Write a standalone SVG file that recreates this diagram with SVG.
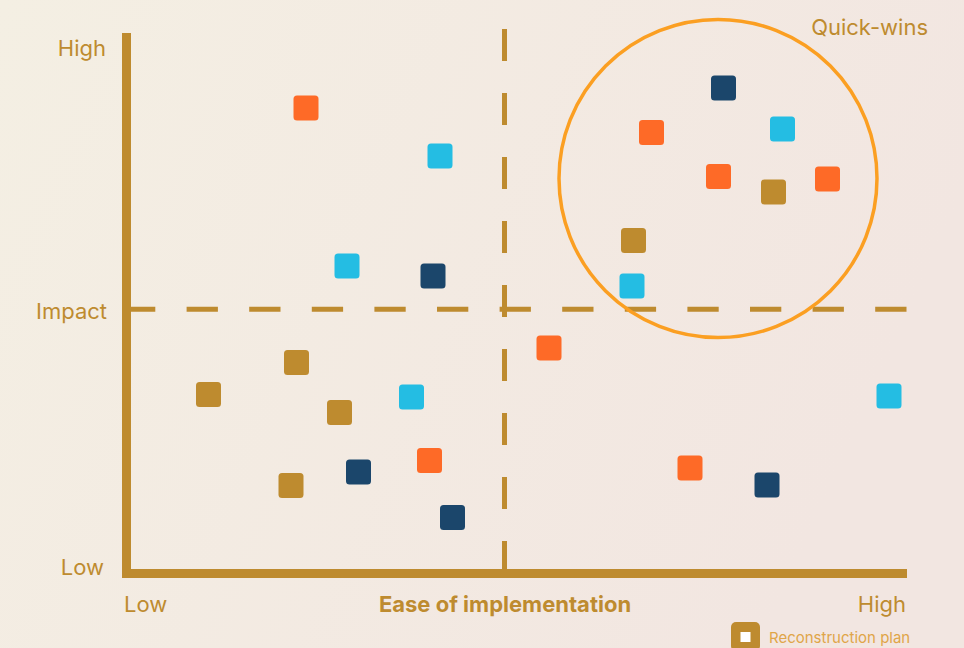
<svg xmlns="http://www.w3.org/2000/svg" width="964" height="648" viewBox="0 0 964 648">
  <defs>
    <linearGradient id="bg" x1="0" y1="0" x2="1" y2="0.3">
      <stop offset="0" stop-color="#F4EFE3"/>
      <stop offset="1" stop-color="#F2E6E1"/>
    </linearGradient>
  </defs>
  <style>
    .lbl { font-family: Inter, "Open Sans", "Liberation Sans", sans-serif; font-size: 22px; fill: #BE8B2F; }
    .bold { font-weight: 700; font-size: 22px; }
    .leg { font-family: Inter, "Open Sans", "Liberation Sans", sans-serif; font-size: 15px; fill: #E0A548; }
    .axis { fill: #BE8B2F; }
    .dash { stroke: #BE8B2F; stroke-width: 5; fill: none; }
    .o { fill: #FE6A27; }
    .c { fill: #24BDE3; }
    .n { fill: #1B466B; }
    .g { fill: #BE8B2F; }
  </style>
  <rect width="964" height="648" fill="url(#bg)"/>

  <g id="connectors">
    <line class="dash" x1="124" y1="309.3" x2="907.3" y2="309.3" stroke-dasharray="31.3 31.3"/>
    <line class="dash" x1="504.5" y1="29" x2="504.5" y2="573" stroke-dasharray="32 32"/>
    <rect class="axis" x="122" y="33" width="9" height="545"/>
    <rect class="axis" x="122" y="569" width="785" height="9"/>
  </g>

  <g id="quick-wins-circle">
    <circle cx="718" cy="178.5" r="159" fill="none" stroke="#FB9F22" stroke-width="3.5"/>
  </g>

  <g id="labels">
    <text class="lbl" x="106" y="56" text-anchor="end">High</text>
    <text class="lbl" x="107" y="319" text-anchor="end">Impact</text>
    <text class="lbl" x="104" y="575" text-anchor="end">Low</text>
    <text class="lbl" x="124" y="612">Low</text>
    <text class="lbl bold" x="505" y="612" text-anchor="middle">Ease of implementation</text>
    <text class="lbl" x="906" y="612" text-anchor="end">High</text>
    <text class="lbl" x="928" y="35" text-anchor="end">Quick-wins</text>
  </g>

  <g id="items">
    <rect class="o" x="293.5" y="95.5" width="25" height="25" rx="3.5"/>
    <rect class="c" x="427.5" y="143.5" width="25" height="25" rx="3.5"/>
    <rect class="c" x="334.5" y="253.5" width="25" height="25" rx="3.5"/>
    <rect class="n" x="420.5" y="263.5" width="25" height="25" rx="3.5"/>
    <rect class="n" x="711" y="75.5" width="25" height="25" rx="3.5"/>
    <rect class="o" x="639" y="120" width="25" height="25" rx="3.5"/>
    <rect class="c" x="770" y="116.5" width="25" height="25" rx="3.5"/>
    <rect class="o" x="706" y="164" width="25" height="25" rx="3.5"/>
    <rect class="g" x="761" y="179.5" width="25" height="25" rx="3.5"/>
    <rect class="o" x="815" y="166.5" width="25" height="25" rx="3.5"/>
    <rect class="g" x="621" y="228" width="25" height="25" rx="3.5"/>
    <rect class="c" x="619.5" y="273.5" width="25" height="25" rx="3.5"/>
    <rect class="o" x="536.5" y="335.5" width="25" height="25" rx="3.5"/>
    <rect class="g" x="284" y="350" width="25" height="25" rx="3.5"/>
    <rect class="g" x="196" y="382" width="25" height="25" rx="3.5"/>
    <rect class="g" x="327" y="400" width="25" height="25" rx="3.5"/>
    <rect class="c" x="399" y="384.5" width="25" height="25" rx="3.5"/>
    <rect class="c" x="876.5" y="383.5" width="25" height="25" rx="3.5"/>
    <rect class="o" x="417" y="448" width="25" height="25" rx="3.5"/>
    <rect class="n" x="346" y="459.5" width="25" height="25" rx="3.5"/>
    <rect class="g" x="278.5" y="473" width="25" height="25" rx="3.5"/>
    <rect class="n" x="440" y="505" width="25" height="25" rx="3.5"/>
    <rect class="o" x="677.5" y="455.5" width="25" height="25" rx="3.5"/>
    <rect class="n" x="754.5" y="472.5" width="25" height="25" rx="3.5"/>
  </g>

  <g id="legend">
    <rect class="g" x="731" y="622" width="29" height="29" rx="5"/>
    <rect x="740.5" y="632" width="10" height="10" fill="#FFFFFF"/>
    <text class="leg" x="769" y="643">Reconstruction plan</text>
  </g>
</svg>
